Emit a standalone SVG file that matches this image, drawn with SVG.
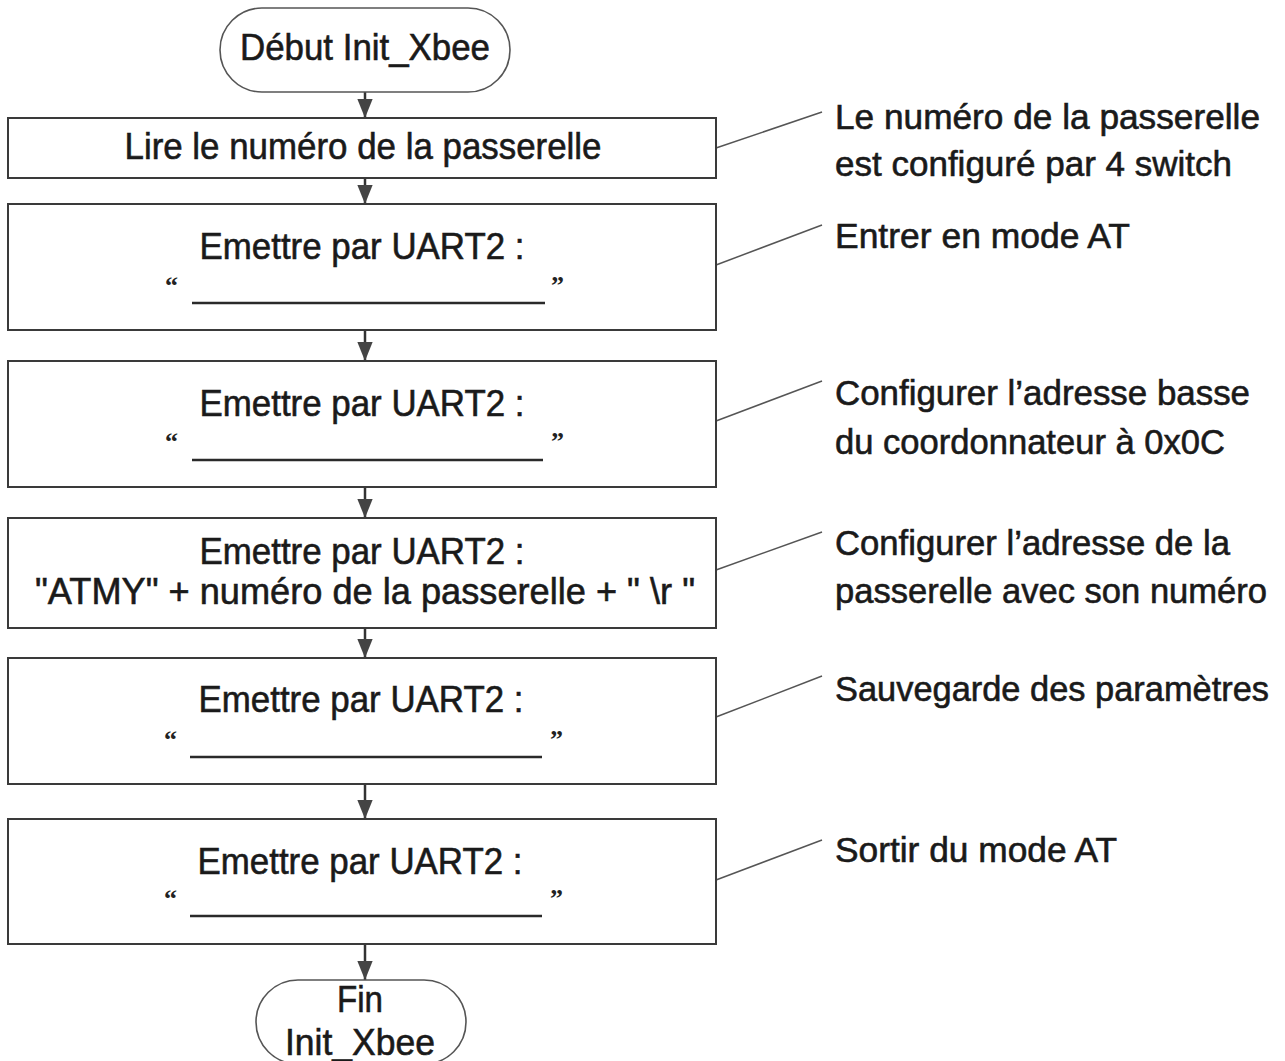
<svg xmlns="http://www.w3.org/2000/svg" width="1285" height="1061" viewBox="0 0 1285 1061">
<defs>
<marker id="ah" viewBox="0 0 10 10" refX="10" refY="5" markerWidth="19" markerHeight="17" markerUnits="userSpaceOnUse" orient="auto" preserveAspectRatio="none">
<path d="M0,0.5 L10,5 L0,9.5 z" fill="#444"/>
</marker>
<style>
.box{fill:#fff;stroke:#3a3a3a;stroke-width:2}
.term{fill:#fff;stroke:#555;stroke-width:1.6}
.t{font-family:"Liberation Sans",Arial,sans-serif;font-size:37px;fill:#1a1a1a;stroke:#1a1a1a;stroke-width:0.6}
.n{font-size:35px}
.c{text-anchor:middle}
.q{font-family:"Liberation Serif","Times New Roman",serif;font-size:26px;font-weight:bold;fill:#222}
.ul{stroke:#2a2a2a;stroke-width:2.5}
.arr{stroke:#333;stroke-width:2.5;fill:none;marker-end:url(#ah)}
.lead{stroke:#555;stroke-width:1.5;fill:none}
</style>
</defs>
<rect width="1285" height="1061" fill="#fff"/>

<g id="connectors">
<line class="arr" x1="365" y1="92" x2="365" y2="118"/>
<line class="arr" x1="365" y1="178" x2="365" y2="204"/>
<line class="arr" x1="365" y1="330" x2="365" y2="361"/>
<line class="arr" x1="365" y1="487" x2="365" y2="518"/>
<line class="arr" x1="365" y1="628" x2="365" y2="658"/>
<line class="arr" x1="365" y1="784" x2="365" y2="819"/>
<line class="arr" x1="365" y1="944" x2="365" y2="980"/>
<line class="lead" x1="716" y1="148" x2="822" y2="112"/>
<line class="lead" x1="716" y1="265" x2="822" y2="225"/>
<line class="lead" x1="716" y1="421" x2="822" y2="381"/>
<line class="lead" x1="716" y1="570" x2="822" y2="532"/>
<line class="lead" x1="716" y1="717" x2="822" y2="676"/>
<line class="lead" x1="716" y1="880" x2="822" y2="840"/>
</g>

<g id="start">
<rect class="term" x="220" y="8" width="290" height="84" rx="42" ry="42"/>
<text class="t c" x="365" y="60" textLength="250" lengthAdjust="spacingAndGlyphs">Début Init_Xbee</text>
</g>

<g id="lire">
<rect class="box" x="8" y="118" width="708" height="60"/>
<text class="t c" x="363" y="159" textLength="477" lengthAdjust="spacingAndGlyphs">Lire le numéro de la passerelle</text>
</g>

<g id="emettre1">
<rect class="box" x="8" y="204" width="708" height="126"/>
<text class="t c" x="362" y="259" textLength="325" lengthAdjust="spacingAndGlyphs">Emettre par UART2 :</text>
<text class="q" x="165" y="294">“</text>
<text class="q" x="551" y="294">”</text>
<line class="ul" x1="192" y1="303" x2="545" y2="303"/>
</g>

<g id="emettre2">
<rect class="box" x="8" y="361" width="708" height="126"/>
<text class="t c" x="362" y="416" textLength="325" lengthAdjust="spacingAndGlyphs">Emettre par UART2 :</text>
<text class="q" x="165" y="450">“</text>
<text class="q" x="551" y="450">”</text>
<line class="ul" x1="192" y1="460" x2="543" y2="460"/>
</g>

<g id="emettre3">
<rect class="box" x="8" y="518" width="708" height="110"/>
<text class="t c" x="362" y="564" textLength="325" lengthAdjust="spacingAndGlyphs">Emettre par UART2 :</text>
<text class="t c" x="365" y="604" textLength="660" lengthAdjust="spacingAndGlyphs">"ATMY" + numéro de la passerelle + " \r "</text>
</g>

<g id="emettre4">
<rect class="box" x="8" y="658" width="708" height="126"/>
<text class="t c" x="361" y="712" textLength="325" lengthAdjust="spacingAndGlyphs">Emettre par UART2 :</text>
<text class="q" x="164" y="748">“</text>
<text class="q" x="550" y="748">”</text>
<line class="ul" x1="190" y1="757" x2="542" y2="757"/>
</g>

<g id="emettre5">
<rect class="box" x="8" y="819" width="708" height="125"/>
<text class="t c" x="360" y="874" textLength="325" lengthAdjust="spacingAndGlyphs">Emettre par UART2 :</text>
<text class="q" x="164" y="907">“</text>
<text class="q" x="550" y="907">”</text>
<line class="ul" x1="190" y1="916" x2="542" y2="916"/>
</g>

<g id="fin">
<rect class="term" x="256" y="980" width="210" height="84" rx="42" ry="42"/>
<text class="t c" x="360" y="1012" textLength="46" lengthAdjust="spacingAndGlyphs">Fin</text>
<text class="t c" x="360" y="1055" textLength="150" lengthAdjust="spacingAndGlyphs">Init_Xbee</text>
</g>

<g id="notes">
<text class="t n" x="835" y="129" textLength="425" lengthAdjust="spacingAndGlyphs">Le numéro de la passerelle</text>
<text class="t n" x="835" y="176" textLength="397" lengthAdjust="spacingAndGlyphs">est configuré par 4 switch</text>
<text class="t n" x="835" y="248" textLength="295" lengthAdjust="spacingAndGlyphs">Entrer en mode AT</text>
<text class="t n" x="835" y="405" textLength="415" lengthAdjust="spacingAndGlyphs">Configurer l’adresse basse</text>
<text class="t n" x="835" y="454" textLength="390" lengthAdjust="spacingAndGlyphs">du coordonnateur à 0x0C</text>
<text class="t n" x="835" y="555" textLength="395" lengthAdjust="spacingAndGlyphs">Configurer l’adresse de la</text>
<text class="t n" x="835" y="603" textLength="432" lengthAdjust="spacingAndGlyphs">passerelle avec son numéro</text>
<text class="t n" x="835" y="701" textLength="434" lengthAdjust="spacingAndGlyphs">Sauvegarde des paramètres</text>
<text class="t n" x="835" y="862" textLength="282" lengthAdjust="spacingAndGlyphs">Sortir du mode AT</text>
</g>
</svg>
